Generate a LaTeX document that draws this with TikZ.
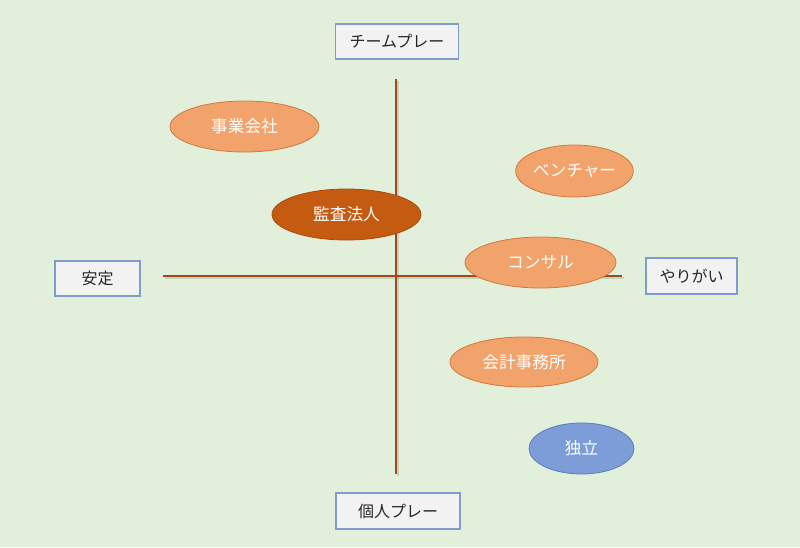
\documentclass[tikz,border=0pt]{standalone}
\usepackage{fontspec}
\setmainfont{Noto Sans CJK JP}
\usetikzlibrary{shapes.geometric}
\definecolor{bgc}{HTML}{E2EFDA}
\definecolor{boxfill}{HTML}{F2F2F2}
\definecolor{boxline}{HTML}{7F9CCB}
\definecolor{lightor}{HTML}{F2A36C}
\definecolor{orline}{HTML}{D07A3E}
\definecolor{darkor}{HTML}{C55A11}
\definecolor{darkorline}{HTML}{A84C0E}
\definecolor{bluefill}{HTML}{7C9DD7}
\definecolor{blueline}{HTML}{5A7DBD}
\definecolor{axisc}{HTML}{9C4A1A}
\begin{document}
\begin{tikzpicture}[x=0.75pt,y=-0.75pt,
  labelbox/.style={draw=boxline,fill=boxfill,line width=0.9pt,inner sep=0pt,font=\fontsize{12}{14}\selectfont,text=black!85},
  bubble/.style={ellipse,draw=orline,fill=lightor,line width=0.6pt,inner sep=0pt,text=white,font=\fontsize{12.5}{15}\selectfont},
  axisline/.style={draw=axisc,line width=1.3pt},
  axisshadow/.style={draw=black,opacity=0.12,line width=2pt}]
\fill[bgc] (0,0) rectangle (800,547);
\useasboundingbox (0,0) rectangle (800,547);
% axes
\coordinate (vtop) at (396,79);
\coordinate (vbot) at (396,474);
\coordinate (hl) at (163,276);
\coordinate (hr) at (622,276);
\draw[axisshadow] ([shift={(2,2)}]vtop) -- ([shift={(2,2)}]vbot);
\draw[axisshadow] ([shift={(2,2)}]hl) -- ([shift={(2,2)}]hr);
\draw[axisline] (hl) -- (hr);
\draw[axisline] (vtop) -- (vbot);
% label boxes
\node[labelbox,minimum width=92.25pt,minimum height=26.25pt] (team) at (397,41.5) {チームプレー};
\node[labelbox,minimum width=63.75pt,minimum height=26.25pt] (antei) at (97.5,278.5) {安定};
\node[labelbox,minimum width=68.25pt,minimum height=27pt] (yari) at (691.5,276) {やりがい};
\node[labelbox,minimum width=93pt,minimum height=27pt] (kojin) at (398,511) {個人プレー};
% bubbles
\node[bubble,minimum width=111.75pt,minimum height=38.25pt] (jigyo) at (244.5,126.5) {事業会社};
\node[bubble,fill=darkor,draw=darkorline,minimum width=111.75pt,minimum height=38.25pt] (kansa) at (346.5,214.5) {監査法人};
\node[bubble,minimum width=87.75pt,minimum height=39pt] (venture) at (574.5,171) {ベンチャー};
\node[bubble,minimum width=113.25pt,minimum height=38.25pt] (consul) at (540.5,262.5) {コンサル};
\node[bubble,minimum width=111pt,minimum height=37.5pt] (kaikei) at (524,362) {会計事務所};
\node[bubble,fill=bluefill,draw=blueline,minimum width=78.75pt,minimum height=38.25pt] (dokuritsu) at (581.5,448.5) {独立};
\end{tikzpicture}
\end{document}
